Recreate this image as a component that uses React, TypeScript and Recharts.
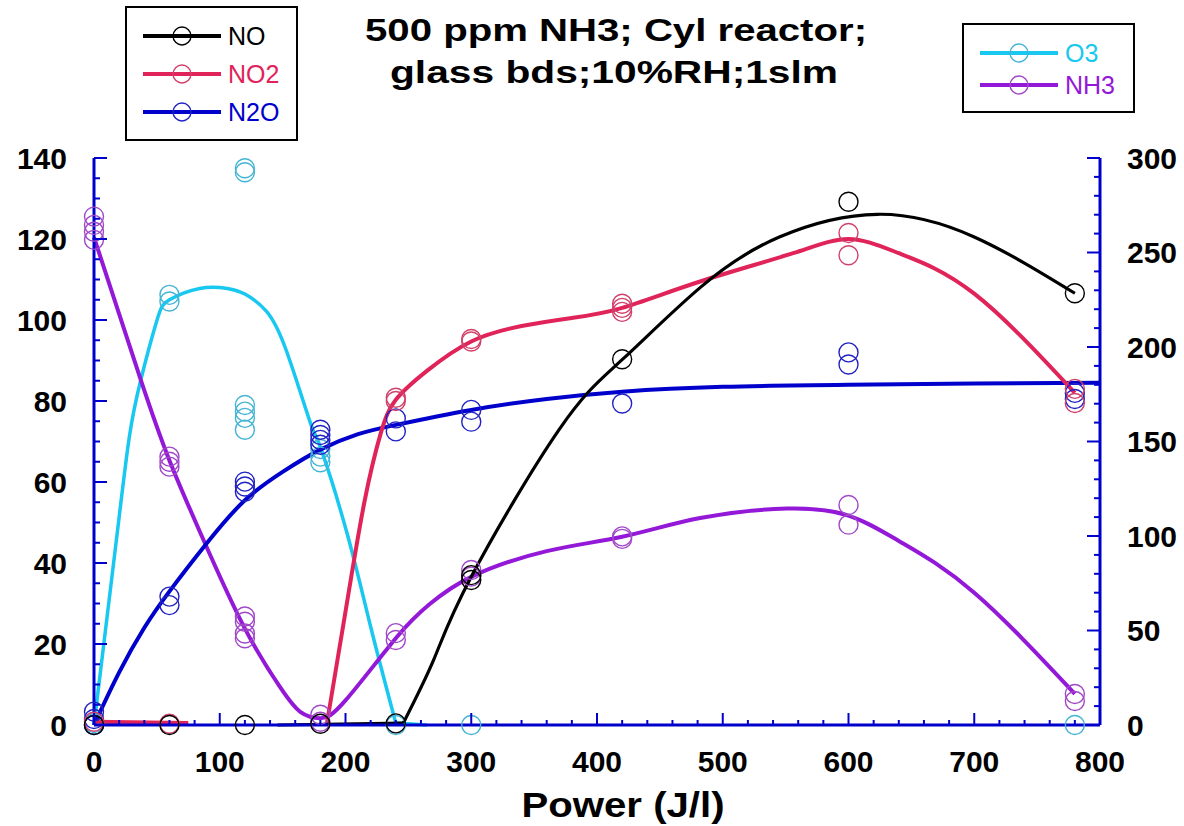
import React from 'react';
import { ComposedChart, Line, Scatter, XAxis, YAxis } from 'recharts';

type P = [number, number];

// measured points: NO, NO2, N2O on the left axis; O3, NH3 on the right axis
const noPoints: P[] = [[0, 0], [60, 0], [120, 0], [180, 0.3], [240, 0.4], [300, 37], [300, 35.8], [420, 90.3], [600, 129.2], [780, 106.6]];
const no2Points: P[] = [[0, 0.8], [60, 0.3], [240, 80.8], [240, 80], [300, 95.3], [300, 94.7], [420, 104], [420, 103], [420, 102], [600, 121.5], [600, 116], [780, 83], [780, 79.5]];
const n2oPoints: P[] = [[0, 3.3], [0, 1.5], [0, 0], [60, 31.7], [60, 29.6], [120, 60.1], [120, 58.9], [120, 57.6], [180, 72.9], [180, 71.6], [180, 70.4], [180, 69.2], [240, 75.7], [240, 72.5], [300, 77.8], [300, 74.9], [420, 79.4], [600, 92], [600, 89], [780, 82], [780, 80.5]];
const o3Points: P[] = [[0, 0], [0, 1], [60, 227.6], [60, 224.1], [120, 294.6], [120, 292.5], [120, 169.3], [120, 165.8], [120, 162.5], [120, 156.2], [180, 146], [180, 142], [180, 139], [240, 0], [300, 0], [780, 0]];
const nh3Points: P[] = [[0, 269], [0, 264.6], [0, 261], [0, 256.7], [60, 142], [60, 139.3], [60, 136.7], [120, 57.4], [120, 54.6], [120, 48.4], [120, 45.9], [180, 5.4], [180, 1.7], [240, 48.6], [240, 45], [300, 82], [300, 78.5], [420, 99.8], [420, 98.5], [600, 116.4], [600, 106], [780, 16.4], [780, 12.7]];

// fitted curves
const noFlat: P[] = [[146, 0], [246, 0.5]];
const noFit: P[] = [[246, 0.5], [270, 16], [300, 36.6], [370, 73], [420, 90.2], [482, 108], [545, 120.5], [623, 126.1], [700, 120.5], [780, 106.6]];
const no2FitLow: P[] = [[0, 0.8], [75, 0.5]];
const no2Fit: P[] = [[185, 0], [200, 28], [215, 55], [228, 72], [240, 80.3], [265, 87.5], [300, 94.7], [340, 98.5], [380, 100.5], [420, 103], [482, 109.5], [556, 116.5], [600, 120], [640, 116.5], [700, 106.5], [780, 82]];
const n2oFit: P[] = [[0, 0], [20, 13], [40, 24], [60, 33], [90, 45], [120, 55.5], [150, 62.5], [180, 68], [210, 71.8], [240, 74.1], [300, 77.8], [360, 80.5], [420, 82.3], [500, 83.5], [600, 84], [700, 84.3], [800, 84.5]];
const o3Fit: P[] = [[0, 0], [10, 55], [20, 110], [28, 152], [37, 182], [50, 214], [60, 225], [84, 231], [106, 231], [120, 228], [137, 219], [153, 198], [172, 160], [180, 147], [201, 102], [220, 52], [240, 1]];
const o3Flat: P[] = [[240, 1], [265, 0]];
const nh3Fit: P[] = [[0, 258], [37, 183], [60, 140], [87, 98], [120, 51], [148, 20], [164, 7], [180, 3.6], [200, 13], [241, 46.7], [267, 64], [300, 78.4], [360, 92], [420, 99.6], [482, 109.5], [551, 114.5], [600, 110.8], [641, 97], [700, 70], [780, 16.5]];

const range = (a: number, b: number, s: number) => Array.from({ length: Math.round((b - a) / s) + 1 }, (_, i) => a + i * s);
const xTicks = range(0, 800, 20);
const leftTicks = range(0, 140, 5);
const rightTicks = range(0, 300, 10);

const toXY = (pts: P[]) => pts.map(([x, y]) => ({ x, y }));

const AXIS = '#0000CC';
const FONT = '"Liberation Sans", Arial, Helvetica, sans-serif';
const C = {
  no: '#000000',
  no2: '#E0245A',
  n2o: '#0000CC',
  o3: '#18C8F0',
  nh3: '#9418D8',
};
const M = {
  no: '#000000',
  no2: '#D0406A',
  n2o: '#2222C4',
  o3: '#44B4D4',
  nh3: '#A048C8',
};

function LeftTick(props: any) {
  const { x, y, payload } = props;
  const v = payload.value;
  const major = v % 20 === 0;
  return (
    <g>
      <line x1={x} y1={y} x2={x + (major ? 13 : 6)} y2={y} stroke={AXIS} strokeWidth={2} />
      {major && (
        <text x={x - 27} y={y} dy={10.5} textAnchor="end" fontFamily={FONT} fontWeight="bold" fontSize={30} fill="#000">
          {v}
        </text>
      )}
    </g>
  );
}

function RightTick(props: any) {
  const { x, y, payload } = props;
  const v = payload.value;
  const major = v % 50 === 0;
  return (
    <g>
      <line x1={x} y1={y} x2={x - (major ? 13 : 6)} y2={y} stroke={AXIS} strokeWidth={2} />
      {major && (
        <text x={x + 27} y={y} dy={10.5} textAnchor="start" fontFamily={FONT} fontWeight="bold" fontSize={30} fill="#000">
          {v}
        </text>
      )}
    </g>
  );
}

function BottomTick(props: any) {
  const { x, y, payload } = props;
  const v = payload.value;
  const major = v % 100 === 0;
  return (
    <g>
      <line x1={x} y1={y} x2={x} y2={y - (major ? 12 : 5)} stroke={AXIS} strokeWidth={2} />
      {major && (
        <text x={x} y={y + 47} textAnchor="middle" fontFamily={FONT} fontWeight="bold" fontSize={30} fill="#000">
          {v}
        </text>
      )}
    </g>
  );
}

const ring = (color: string) => (p: any) => <circle cx={p.cx} cy={p.cy} r={9.5} fill="none" stroke={color} strokeWidth={1.4} />;

function LegendRow({ x, y, color, marker, label }: { x: number; y: number; color: string; marker: string; label: string }) {
  return (
    <g>
      <line x1={x} y1={y} x2={x + 78} y2={y} stroke={color} strokeWidth={4} />
      <circle cx={x + 39} cy={y} r={9} fill="none" stroke={marker} strokeWidth={1.4} />
      <text x={x + 85} y={y + 9} fontFamily={FONT} fontSize={25} fill={color}>
        {label}
      </text>
    </g>
  );
}

function curve(pts: P[], axis: string, color: string, width: number, type: 'natural' | 'linear') {
  return (
    <Line
      data={toXY(pts)}
      dataKey="y"
      yAxisId={axis}
      type={type}
      stroke={color}
      strokeWidth={width}
      dot={false}
      activeDot={false}
      isAnimationActive={false}
    />
  );
}

export default function App() {
  return (
    <div style={{ position: 'absolute', left: 0, top: 0, width: 1184, height: 826, background: '#fff' }}>
      <ComposedChart width={1184} height={826} margin={{ top: 158, right: 24, bottom: 41, left: 34 }}>
        <Scatter data={toXY(o3Points)} dataKey="y" yAxisId="right" shape={ring(M.o3)} isAnimationActive={false} />
        <Scatter data={toXY(nh3Points)} dataKey="y" yAxisId="right" shape={ring(M.nh3)} isAnimationActive={false} />
        <Scatter data={toXY(n2oPoints)} dataKey="y" yAxisId="left" shape={ring(M.n2o)} isAnimationActive={false} />
        <Scatter data={toXY(no2Points)} dataKey="y" yAxisId="left" shape={ring(M.no2)} isAnimationActive={false} />
        <Scatter data={toXY(noPoints)} dataKey="y" yAxisId="left" shape={ring(M.no)} isAnimationActive={false} />

        {curve(o3Fit, 'right', C.o3, 3.5, 'natural')}
        {curve(o3Flat, 'right', C.o3, 3.5, 'linear')}
        {curve(nh3Fit, 'right', C.nh3, 4, 'natural')}
        {curve(n2oFit, 'left', C.n2o, 4, 'natural')}
        {curve(no2FitLow, 'left', C.no2, 4, 'linear')}
        {curve(no2Fit, 'left', C.no2, 4, 'natural')}
        {curve(noFlat, 'left', C.no, 3.2, 'linear')}
        {curve(noFit, 'left', C.no, 3.2, 'natural')}

        <XAxis
          type="number"
          dataKey="x"
          domain={[0, 800]}
          ticks={xTicks}
          interval={0}
          height={60}
          tickSize={0}
          tickMargin={0}
          tickLine={false}
          axisLine={{ stroke: AXIS, strokeWidth: 3 }}
          tick={<BottomTick />}
        />
        <YAxis
          yAxisId="left"
          orientation="left"
          type="number"
          dataKey="y"
          domain={[0, 140]}
          ticks={leftTicks}
          interval={0}
          width={60}
          tickSize={0}
          tickMargin={0}
          tickLine={false}
          axisLine={{ stroke: AXIS, strokeWidth: 3 }}
          tick={<LeftTick />}
        />
        <YAxis
          yAxisId="right"
          orientation="right"
          type="number"
          dataKey="y"
          domain={[0, 300]}
          ticks={rightTicks}
          interval={0}
          width={60}
          tickSize={0}
          tickMargin={0}
          tickLine={false}
          axisLine={{ stroke: AXIS, strokeWidth: 3 }}
          tick={<RightTick />}
        />
      </ComposedChart>

      <svg width={1184} height={826} style={{ position: 'absolute', left: 0, top: 0, pointerEvents: 'none' }}>
        <text x={616} y={41} textAnchor="middle" fontFamily={FONT} fontWeight="bold" fontSize={32} textLength={502} lengthAdjust="spacingAndGlyphs">
          500 ppm NH3; Cyl reactor;
        </text>
        <text x={614} y={83} textAnchor="middle" fontFamily={FONT} fontWeight="bold" fontSize={32} textLength={448} lengthAdjust="spacingAndGlyphs">
          glass bds;10%RH;1slm
        </text>
        <text x={623} y={817} textAnchor="middle" fontFamily={FONT} fontWeight="bold" fontSize={35} textLength={203} lengthAdjust="spacingAndGlyphs">
          Power (J/l)
        </text>

        <rect x={126} y={7} width={171} height={133} fill="none" stroke="#000" strokeWidth={2} />
        <LegendRow x={143} y={36} color={C.no} marker={M.no} label="NO" />
        <LegendRow x={143} y={74} color={C.no2} marker={M.no2} label="NO2" />
        <LegendRow x={143} y={112} color={C.n2o} marker={M.n2o} label="N2O" />

        <rect x={963} y={24} width={171} height={88} fill="none" stroke="#000" strokeWidth={2} />
        <LegendRow x={980} y={53} color={C.o3} marker={M.o3} label="O3" />
        <LegendRow x={980} y={85} color={C.nh3} marker={M.nh3} label="NH3" />
      </svg>
    </div>
  );
}
